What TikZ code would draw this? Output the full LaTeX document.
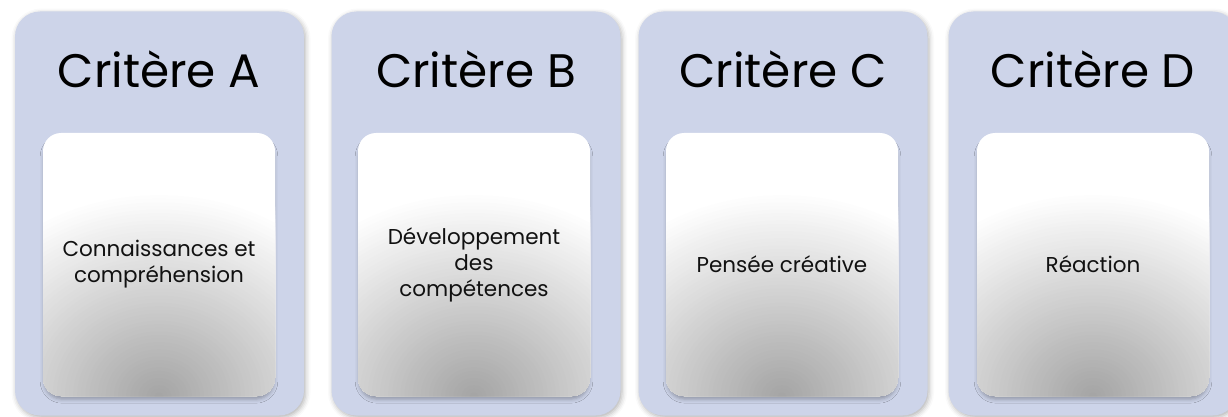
\documentclass[tikz,border=0pt]{standalone}
\usepackage{fontspec}
\setmainfont{Poppins}
\usetikzlibrary{shadows.blur}
\definecolor{panelfill}{HTML}{CDD4E9}
\definecolor{txt}{HTML}{111111}
\newcommand{\glowfill}{%
  \foreach \k in {1,...,60}{%
    \pgfmathsetmacro\rr{1-(\k-1)/60}%
    \pgfmathsetmacro\cc{max(0,36*(1-\rr/0.95))}%
    \fill[black!\cc] (path picture bounding box.south) ellipse ({245*\rr pt} and {215*\rr pt});%
  }}
\tikzset{
  panel/.style={draw=none, fill=panelfill, rounded corners=25pt,
    minimum width=289pt, minimum height=404pt, inner sep=0pt,
    blur shadow={shadow xshift=1.5pt, shadow yshift=-2pt, shadow blur radius=5pt, shadow opacity=30}},
  inner/.style={draw=none, fill=white, rounded corners=18pt,
    minimum width=232pt, minimum height=263pt, inner sep=0pt,
    blur shadow={shadow xshift=0pt, shadow yshift=-4.5pt, shadow blur radius=4pt, shadow opacity=30, shadow scale=0.99},
    path picture={\glowfill},
    font=\fontsize{21.5}{26}\selectfont, text=txt, align=center},
  title/.style={font=\fontsize{47}{50}\selectfont, text=black, anchor=base}
}
\begin{document}
\begin{tikzpicture}[x=1pt,y=-1pt]
\useasboundingbox (0,0) rectangle (1228,417);
\clip (0,0) rectangle (1228,417);
\node[panel] (pA) at (159.5,213.5) {};
\node[panel] (pB) at (476,213.5) {};
\node[panel] (pC) at (783,213.5) {};
\node[panel] (pD) at (1093,213.5) {};
\node[title] (tA) at (159,88) {Critère A};
\node[title] (tB) at (476,88) {Critère B};
\node[title] (tC) at (783,88) {Critère C};
\node[title] (tD) at (1093,88) {Critère D};
\node[inner] (iA) at (159,264.5) {Connaissances et\\compréhension};
\node[inner] (iB) at (474,264.5) {Développement\\des\\compétences};
\node[inner] (iC) at (782,264.5) {Pensée créative};
\node[inner] (iD) at (1093,264.5) {Réaction};
\end{tikzpicture}
\end{document}
